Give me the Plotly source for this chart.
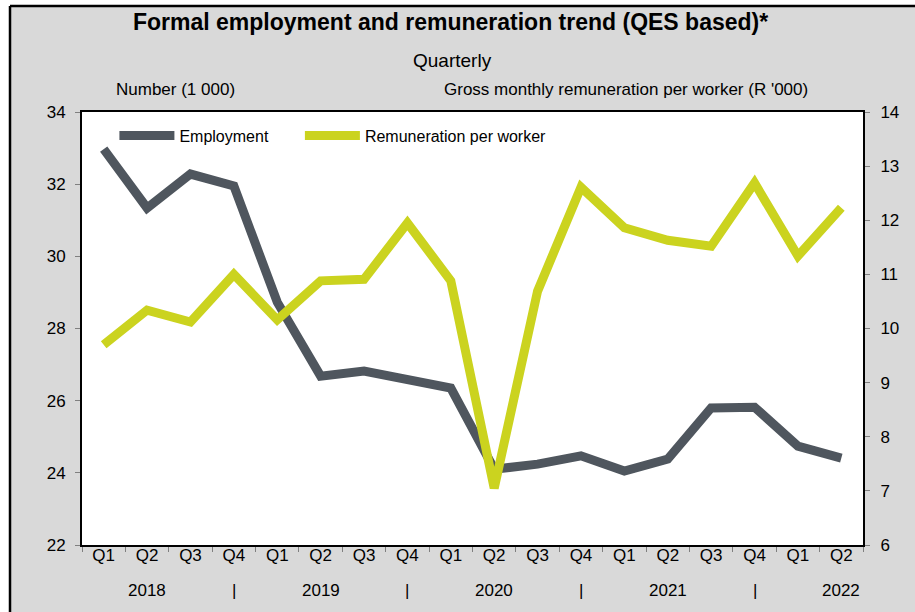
import plotly.graph_objects as go

quarters = ["Q1", "Q2", "Q3", "Q4"] * 4 + ["Q1", "Q2"]
year_row = ["", "2018", "", "|", "", "2019", "", "|", "", "2020", "", "|",
            "", "2021", "", "|", "", "2022"]

employment = [32.97, 31.34, 32.28, 31.95, 28.73, 26.68, 26.82, 26.57, 26.35,
              24.10, 24.24, 24.47, 24.05, 24.38, 25.80, 25.82, 24.74, 24.41]
remuneration = [9.70, 10.34, 10.12, 11.00, 10.16, 10.88, 10.91, 11.95, 10.88,
                7.05, 10.69, 12.61, 11.86, 11.63, 11.52, 12.69, 11.34, 12.23]

GREY = "#4f565e"
LIME = "#cbd31f"
FONT = "Liberation Sans, Arial, sans-serif"

x = list(range(len(quarters)))

fig = go.Figure()
fig.add_trace(go.Scatter(x=x, y=employment, name="Employment", mode="lines",
                         line=dict(color=GREY, width=9), legend="legend"))
fig.add_trace(go.Scatter(x=x, y=remuneration, name="Remuneration per worker",
                         mode="lines", yaxis="y2", legend="legend2",
                         line=dict(color=LIME, width=9)))

legend_style = dict(orientation="h", xanchor="left", yanchor="top", y=0.985,
                    bgcolor="rgba(0,0,0,0)", font=dict(size=16), itemwidth=55)

fig.update_layout(
    width=915, height=612,
    margin=dict(l=82, r=52, t=112, b=67),
    paper_bgcolor="#d9d9d9", plot_bgcolor="white",
    font=dict(family=FONT, size=17, color="black"),
    showlegend=True,
    legend=dict(x=0.0415, **legend_style),
    legend2=dict(x=0.279, **legend_style),
    xaxis=dict(range=[-0.5, 17.5], tickvals=x, ticktext=quarters, ticks="",
               ticklabelstandoff=-6,
               showgrid=False, zeroline=False, showline=True, linecolor="black",
               linewidth=2, mirror=True,
               minor=dict(ticks="outside", tick0=-0.5, dtick=1, ticklen=5,
                          tickcolor="#808080", showgrid=False)),
    yaxis=dict(range=[22, 34], dtick=2, ticks="outside", ticklen=5,
               ticklabelstandoff=6,
               tickcolor="#808080", showgrid=False, zeroline=False,
               showline=True, linecolor="black", linewidth=2, mirror=True),
    yaxis2=dict(range=[6, 14], dtick=1, ticks="outside", ticklen=5,
                ticklabelstandoff=7,
                tickcolor="#808080", showgrid=False, zeroline=False,
                overlaying="y", side="right", showline=True,
                linecolor="black", linewidth=2),
)

# second row of x labels (years and separators)
for xi, label in zip(x, year_row):
    if label:
        fig.add_annotation(text=label, xref="x", yref="paper", x=xi, y=-0.106,
                           xanchor="center", yanchor="middle", showarrow=False,
                           font=dict(size=17))

fig.add_annotation(text="<b>Formal employment and remuneration trend (QES based)*</b>",
                   xref="paper", yref="paper", x=0.472, y=1.208, showarrow=False,
                   xanchor="center", yanchor="middle", font=dict(size=23))
fig.add_annotation(text="Quarterly", xref="paper", yref="paper", x=0.474, y=1.12,
                   xanchor="center", yanchor="middle", showarrow=False,
                   font=dict(size=19))
fig.add_annotation(text="Number (1 000)", xref="paper", yref="paper", x=0.12,
                   y=1.051, xanchor="center", yanchor="middle", showarrow=False,
                   font=dict(size=17))
fig.add_annotation(text="Gross monthly remuneration per worker (R '000)",
                   xref="paper", yref="paper", x=0.697, y=1.051,
                   xanchor="center", yanchor="middle", showarrow=False,
                   font=dict(size=17))

# outer frame: white strip at top/left, black border lines
top = 1 + 106 / 433
left = -72 / 781
fig.add_shape(type="rect", xref="paper", yref="paper", x0=-0.2, x1=1.2,
              y0=top, y1=1.4, fillcolor="white", line_width=0)
fig.add_shape(type="rect", xref="paper", yref="paper", x0=-0.2, x1=left,
              y0=-0.3, y1=1.4, fillcolor="white", line_width=0)
fig.add_shape(type="line", xref="paper", yref="paper", x0=left, x1=1.2,
              y0=top, y1=top, line=dict(color="black", width=2.5))
fig.add_shape(type="line", xref="paper", yref="paper", x0=left, x1=left,
              y0=-0.3, y1=top, line=dict(color="black", width=2.5))

fig.write_html("out.html", config={"displayModeBar": False},
               post_script="document.body.style.margin='0';")
